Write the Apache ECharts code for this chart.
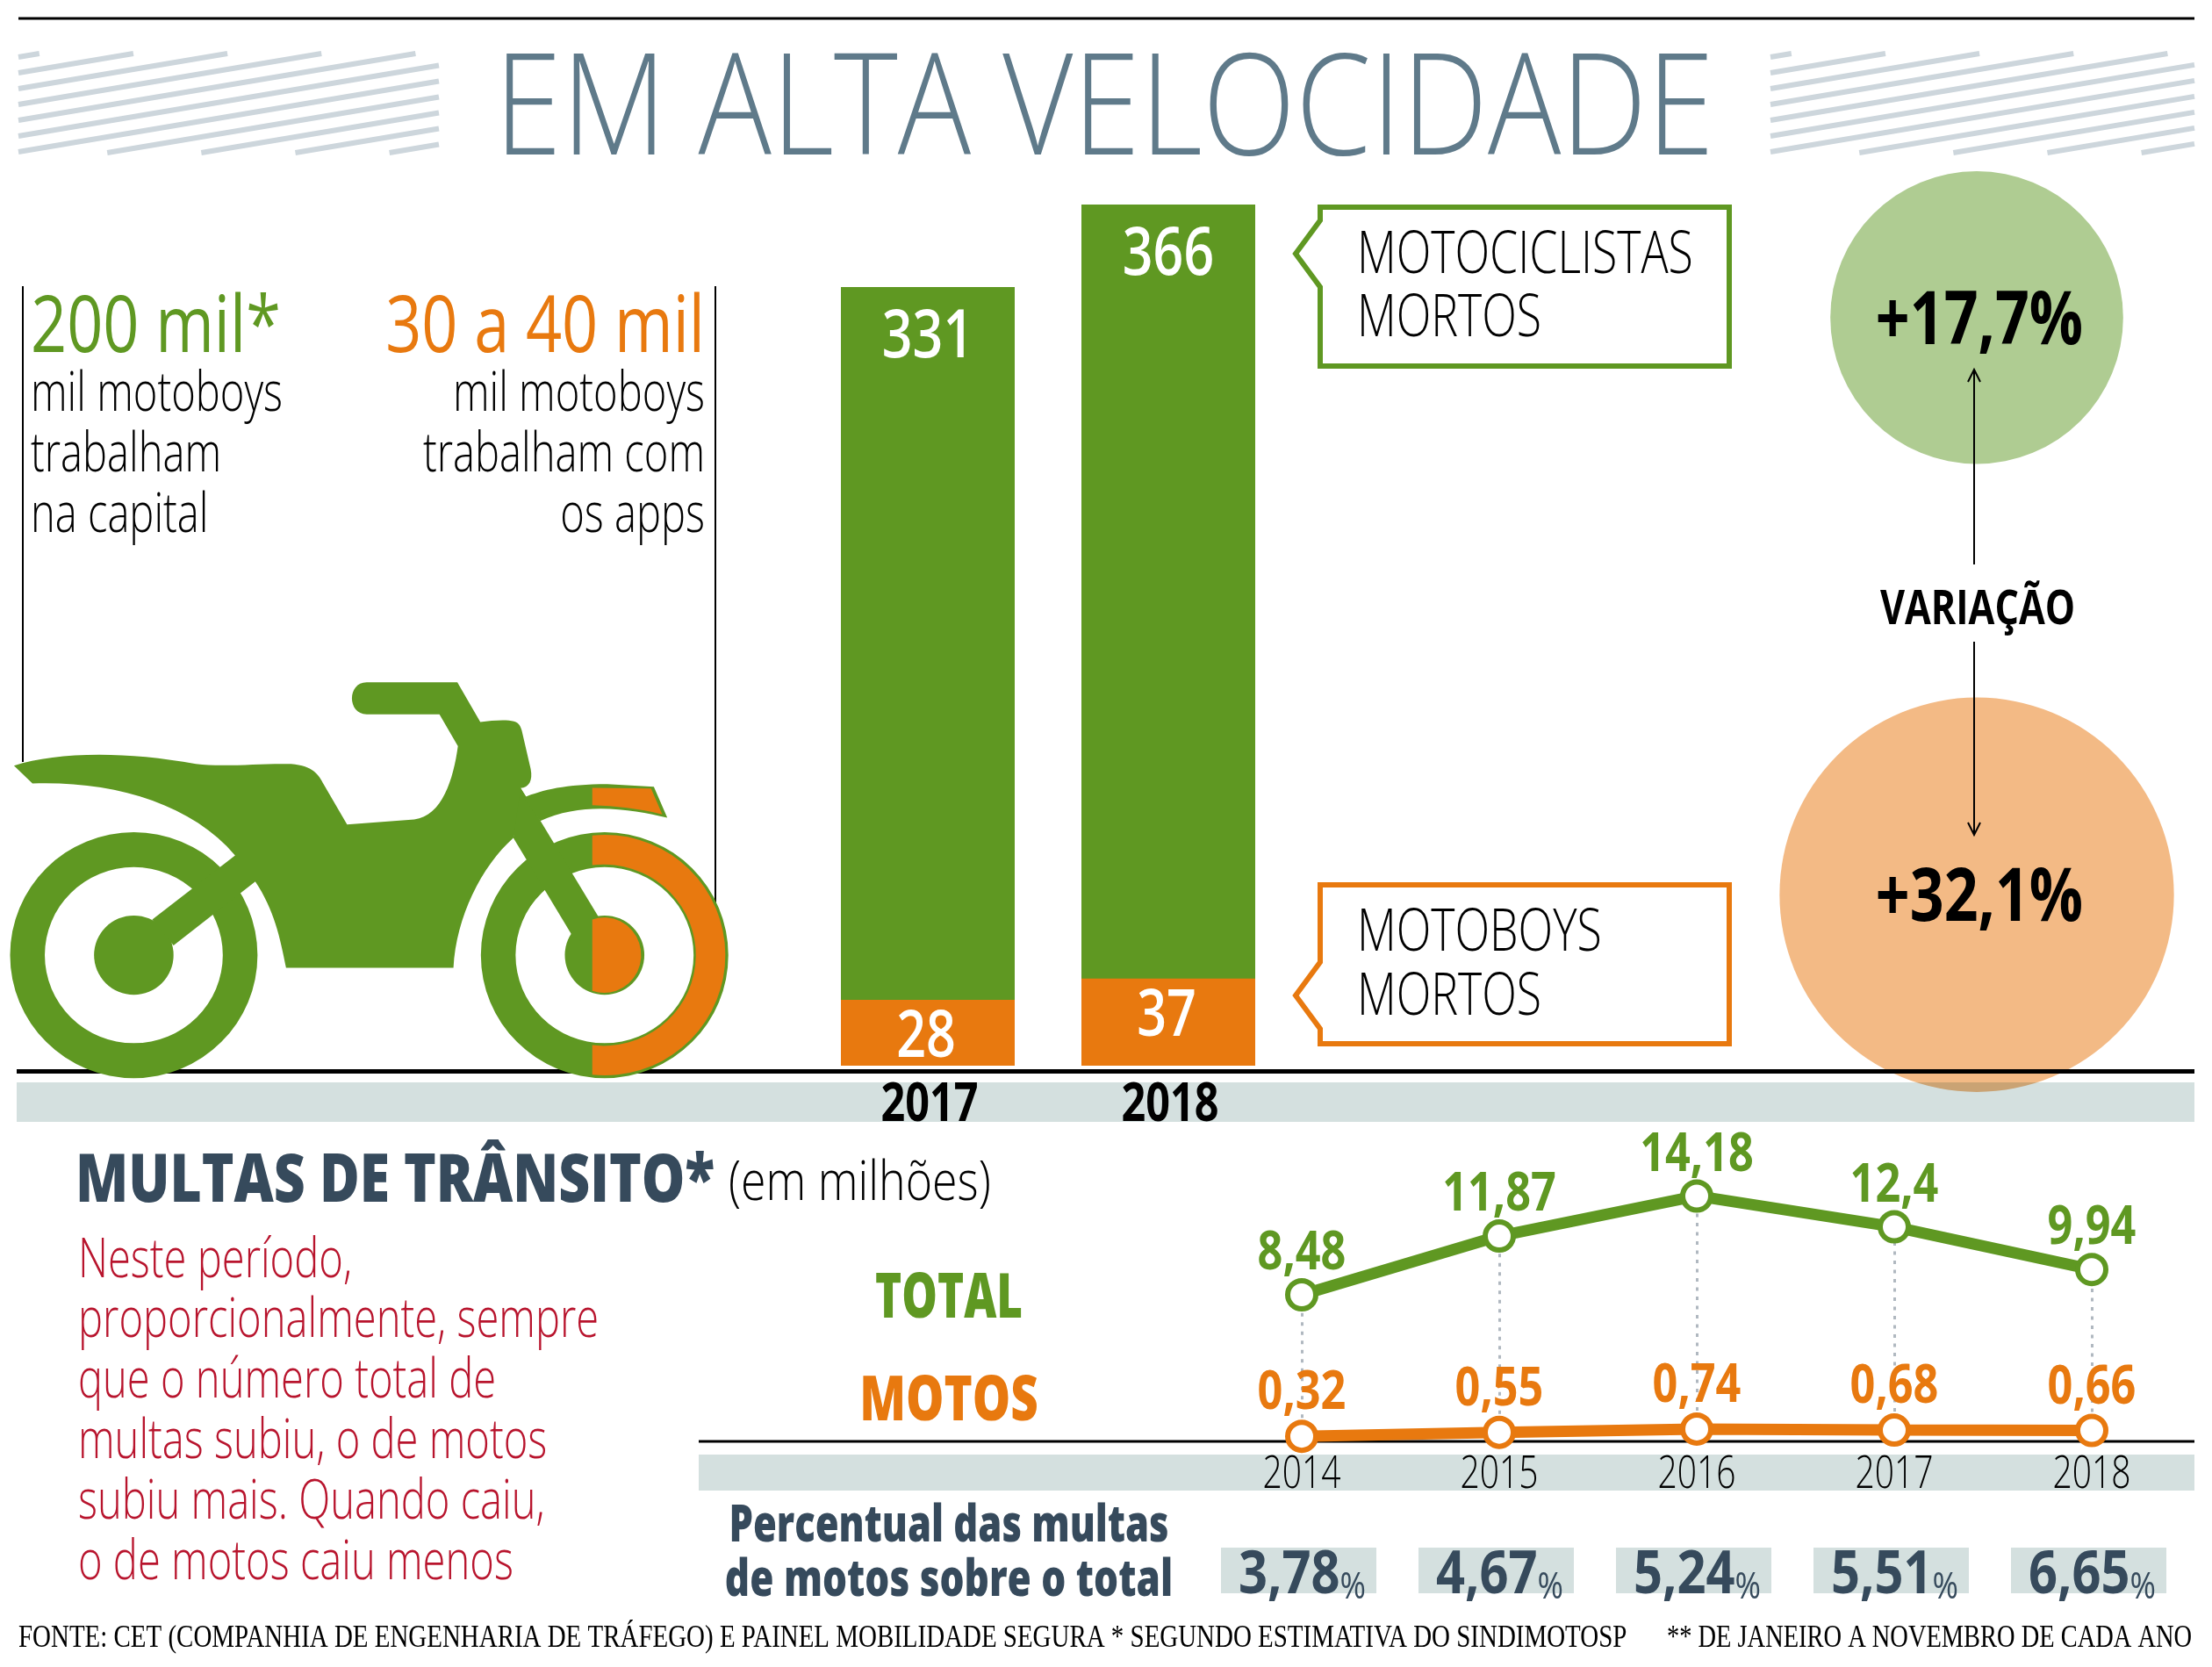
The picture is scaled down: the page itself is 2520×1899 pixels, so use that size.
<!DOCTYPE html>
<html>
<head>
<meta charset="utf-8">
<style>html,body{margin:0;background:#fff}#main{width:2520px;height:1899px}</style>
<script src="https://cdn.jsdelivr.net/npm/echarts@6/dist/echarts.min.js"></script>
</head>
<body>
<div id="main"></div>
<script>
var barYears = ['2017', '2018'];
var motociclistas = [331, 366];
var motoboys = [28, 37];
var variacao = [17.7, 32.1];
var variacaoNomes = ['Motociclistas', 'Motoboys'];
var anos = ['2014', '2015', '2016', '2017', '2018'];
var multasTotal = [8.48, 11.87, 14.18, 12.4, 9.94];
var multasMotos = [0.32, 0.55, 0.74, 0.68, 0.66];
var percentual = [3.78, 4.67, 5.24, 5.51, 6.65];

var GREEN = '#5f9822', ORANGE = '#e8790f', SLATE = '#364a5c', BAND = '#d4e0df';
var OPEN = '"Open Sans"';

function virgula(v) { return String(v).replace('.', ','); }
function texto(x, y, str, size, color, weight, sx, align, family) {
    return {
        type: 'text', x: x, y: y, scaleX: sx || 1, z: 20,
        style: {
            text: str, fontSize: size, fill: color, fontWeight: weight || 'normal',
            fontFamily: family || OPEN, align: align || 'left', verticalAlign: 'middle'
        }
    };
}
function linha(x1, y1, x2, y2, w, color, z) {
    return { type: 'line', z: z || 1, shape: { x1: x1, y1: y1, x2: x2, y2: y2 }, style: { stroke: color || '#000', lineWidth: w } };
}
function seta(x, y, dir) {
    return { type: 'polyline', z: 6, shape: { points: [[x - 7, y + dir * 14], [x, y], [x + 7, y + dir * 14]] }, style: { stroke: '#000', lineWidth: 2, fill: 'none' } };
}
// listras diagonais ao lado do titulo
function listras(x0, x1, y0, y1) {
    var out = [], slope = 0.168, passo = 18;
    for (var c = y0 + 4; c < y1 + (x1 - x0) * slope; c += passo) {
        var xa = x0, ya = c, xb = x1, yb = c - (x1 - x0) * slope;
        if (ya > y1) { xa = x0 + (ya - y1) / slope; ya = y1; }
        if (yb < y0) { xb = x0 + (c - y0) / slope; yb = y0; }
        out.push(linha(xa, ya, xb, yb, 6, '#cdd6dc', 1));
    }
    return out;
}
function caixa(top, bottom, tipY, color) {
    return {
        type: 'polygon', z: 5,
        shape: { points: [[1504, top], [1970, top], [1970, bottom], [1504, bottom], [1504, tipY + 38], [1476, tipY], [1504, tipY - 38]] },
        style: { fill: '#fff', stroke: color, lineWidth: 6 }
    };
}

// moto desenhada em coordenadas proprias, escala aplicada no grupo
var motoVerde = [
    'M18,1014 A221,366 0 1 1 460,1014 A221,366 0 1 1 18,1014 Z M80,1014 A159,262 0 1 0 398,1014 A159,262 0 1 0 80,1014 Z',
    'M859,1014 A221,366 0 1 1 1301,1014 A221,366 0 1 1 859,1014 Z M921,1014 A159,262 0 1 0 1239,1014 A159,262 0 1 0 921,1014 Z',
    'M168,1014 A71,118 0 1 1 310,1014 A71,118 0 1 1 168,1014 Z',
    'M1009,1014 A71,118 0 1 1 1151,1014 A71,118 0 1 1 1009,1014 Z',
    'M25,450 C100,410 220,405 350,445 C400,455 470,442 520,445 C560,450 570,480 578,505 L620,625 L740,610 C790,600 810,490 818,392 L785,297 L655,297 C620,297 620,202 655,202 L817,202 L858,320 C880,315 905,312 918,318 C928,322 930,335 932,345 L948,460 C952,495 945,515 930,517 L940,543 L917,665 C860,750 815,900 810,1052 L511,1052 C500,960 490,880 456,795 L310,985 L272,908 L420,717 C340,560 200,495 58,503 Z',
    'M930,517 L1068,897 L1058,1000 L1020,950 L917,665 Z',
    'M935,545 C970,522 1010,505 1085,505 L1168,513 L1192,605 C1130,580 1040,555 965,615 Z'
];
var motoLaranja = [
    'M1058,658 A215,358 0 1 1 1058,1370 L1058,1282 A165,270 0 1 0 1058,746 Z',
    'M1058,908 A66,112 0 1 1 1058,1120 Z',
    'M1058,516 L1163,518 L1183,595 C1140,578 1100,570 1058,568 Z'
];
function pedacos(lista, cor) {
    return lista.map(function (d) {
        return { type: 'path', shape: { pathData: d }, style: { fill: cor } };
    });
}
function renderMoto() {
    return {
        type: 'group', x: 0, y: 700, scaleX: 1 / 1.568, scaleY: 1 / 2.613,
        children: pedacos(motoVerde, GREEN).concat(pedacos(motoLaranja, ORANGE))
    };
}

// rotulos condensados: a fonte instalada e larga, entao cada rotulo e comprimido com scaleX
function rotulos(xIdx, yIdx, dados, textos, cfg) {
    return {
        type: 'custom', xAxisIndex: xIdx, yAxisIndex: yIdx, z: 30, silent: true, data: dados,
        renderItem: function (params, api) {
            var p = api.coord([api.value(0), api.value(1)]);
            return {
                type: 'text', x: p[0] + (cfg.dx || 0), y: p[1] + (cfg.dy || 0), scaleX: cfg.sx,
                style: {
                    text: textos[params.dataIndex], fontFamily: OPEN, fontSize: cfg.size, fontWeight: cfg.weight || 600,
                    fill: cfg.color, align: 'center', verticalAlign: 'middle', rich: cfg.rich
                }
            };
        }
    };
}
function pares(valores) {
    return valores.map(function (v, i) { return [i, v]; });
}

var graficos = [].concat(
    [linha(21, 21, 2500, 21, 3)],
    listras(21, 500, 61, 174),
    listras(2017, 2500, 61, 174),
    [
        texto(1258, 130, 'EM ALTA VELOCIDADE', 160, '#5f7a8a', 300, 0.867, 'center'),
        linha(26, 326, 26, 868, 2),
        linha(815, 326, 815, 1029, 2),
        { type: 'rect', z: 4, shape: { x: 19, y: 1233, width: 2481, height: 45 }, style: { fill: BAND, blend: 'multiply' } },
        linha(19, 1220.5, 2500, 1220.5, 5, '#000', 4),
        texto(35, 375, '200 mil*', 90, GREEN, 'normal', 0.8),
        texto(803, 375, '30 a 40 mil', 90, ORANGE, 'normal', 0.8, 'right'),
        texto(35, 450, 'mil motoboys', 62, '#000', 300, 0.76),
        texto(35, 519, 'trabalham', 62, '#000', 300, 0.76),
        texto(35, 588, 'na capital', 62, '#000', 300, 0.76),
        texto(803, 450, 'mil motoboys', 62, '#000', 300, 0.76, 'right'),
        texto(803, 519, 'trabalham com', 62, '#000', 300, 0.76, 'right'),
        texto(803, 588, 'os apps', 62, '#000', 300, 0.76, 'right'),
        caixa(236, 417, 289, GREEN),
        caixa(1008, 1189, 1134, ORANGE),
        texto(1546, 292, 'MOTOCICLISTAS', 66, '#000', 300, 0.785),
        texto(1546, 364, 'MORTOS', 66, '#000', 300, 0.785),
        texto(1546, 1064, 'MOTOBOYS', 66, '#000', 300, 0.785),
        texto(1546, 1137, 'MORTOS', 66, '#000', 300, 0.785),
        linha(2249, 422, 2249, 643, 2, '#000', 6),
        linha(2249, 731, 2249, 950, 2, '#000', 6),
        seta(2249, 421, 1),
        seta(2249, 951, -1),
        texto(2253, 696, 'VARIAÇÃO', 54, '#000', 'bold', 0.8, 'center'),
        texto(86, 1347, 'MULTAS DE TRÂNSITO*', 76, SLATE, 800, 0.82),
        texto(830, 1349, '(em milhões)', 62, '#000', 300, 0.836),
        texto(1081, 1481, 'TOTAL', 70, GREEN, 800, 0.73, 'center'),
        texto(1081, 1598, 'MOTOS', 70, ORANGE, 800, 0.78, 'center'),
        { type: 'rect', z: 0, shape: { x: 796, y: 1657, width: 1704, height: 41 }, style: { fill: BAND } },
        linha(796, 1642, 2500, 1642, 3),
        texto(1081, 1739, 'Percentual das multas', 58, SLATE, 800, 0.75, 'center'),
        texto(1081, 1801, 'de motos sobre o total', 58, SLATE, 800, 0.76, 'center'),
        texto(21, 1867, 'FONTE: CET (COMPANHIA DE ENGENHARIA DE TRÁFEGO) E PAINEL MOBILIDADE SEGURA * SEGUNDO ESTIMATIVA DO SINDIMOTOSP', 36, '#000', 'normal', 0.804, 'left', '"Liberation Serif"'),
        texto(2497, 1867, '** DE JANEIRO A NOVEMBRO DE CADA ANO', 36, '#000', 'normal', 0.79, 'right', '"Liberation Serif"')
    ],
    ['Neste período,', 'proporcionalmente, sempre', 'que o número total de', 'multas subiu, o de motos', 'subiu mais. Quando caiu,', 'o de motos caiu menos'].map(function (s, i) {
        return texto(89, 1437 + i * 68.8, s, 62, '#b8142d', 300, 0.76);
    })
);

var option = {
    animation: false,
    backgroundColor: '#fff',
    graphic: graficos,
    grid: [
        { left: 920, top: 142, width: 548, height: 1072 },
        { left: 1370.5, top: 1326.5, width: 1125, height: 316 },
        { left: 1367, top: 1763, width: 1125, height: 52 },
        { left: 2089, top: 33, width: 326, height: 1315 }
    ],
    xAxis: [
        { gridIndex: 0, type: 'category', data: barYears, axisLine: { show: false }, axisTick: { show: false }, axisLabel: { show: false } },
        { gridIndex: 1, type: 'category', data: anos, axisLine: { show: false }, axisTick: { show: false }, axisLabel: { show: false } },
        { gridIndex: 2, type: 'category', data: anos, show: false },
        { gridIndex: 3, type: 'category', data: ['variação'], show: false }
    ],
    yAxis: [
        { gridIndex: 0, type: 'value', min: 0, max: 400, show: false },
        { gridIndex: 1, type: 'value', min: 0, max: 16, show: false },
        { gridIndex: 2, type: 'category', data: ['%'], show: false },
        { gridIndex: 3, type: 'category', inverse: true, data: variacaoNomes, show: false }
    ],
    series: [
        { type: 'custom', name: 'moto', coordinateSystem: 'none', data: [0], renderItem: renderMoto, silent: true, z: 10 },
        { type: 'bar', name: 'Motociclistas', xAxisIndex: 0, yAxisIndex: 0, data: motociclistas, barWidth: 198, barGap: '-100%', itemStyle: { color: GREEN } },
        { type: 'bar', name: 'Motoboys', xAxisIndex: 0, yAxisIndex: 0, data: motoboys, barWidth: 198, barGap: '-100%', itemStyle: { color: ORANGE } },
        { type: 'line', name: 'Total', xAxisIndex: 1, yAxisIndex: 1, data: multasTotal, symbol: 'circle', symbolSize: 32,
          lineStyle: { color: GREEN, width: 13 }, itemStyle: { color: '#fff', borderColor: GREEN, borderWidth: 6 }, z: 5,
          markLine: { silent: true, symbol: 'none', label: { show: false },
                      lineStyle: { color: '#b0b8c0', type: [4, 6.5], width: 3 },
                      data: anos.map(function (a, i) { return [{ xAxis: i, yAxis: multasMotos[i] }, { xAxis: i, yAxis: multasTotal[i] }]; }) } },
        { type: 'line', name: 'Motos', xAxisIndex: 1, yAxisIndex: 1, data: multasMotos, symbol: 'circle', symbolSize: 32,
          lineStyle: { color: ORANGE, width: 13 }, itemStyle: { color: '#fff', borderColor: ORANGE, borderWidth: 6 }, z: 6 },
        { type: 'scatter', name: 'Percentual', xAxisIndex: 2, yAxisIndex: 2, symbol: 'rect', symbolSize: [177, 52], itemStyle: { color: BAND, opacity: 1 },
          data: percentual.map(function (v, i) { return [i, 0]; }) },
        { type: 'scatter', name: 'Variação', xAxisIndex: 3, yAxisIndex: 3, z: 3, itemStyle: { opacity: 1 },
          data: variacao.map(function (v, i) {
              return { value: [0, i, v], itemStyle: { color: i == 0 ? '#afcc92' : '#f3ba85' } };
          }),
          symbolSize: function (d) { return Math.sqrt(d[2]) * 79.3; } },
        rotulos(0, 0, pares(motociclistas), motociclistas, { dy: 58, sx: 0.8, size: 76, color: '#fff' }),
        rotulos(0, 0, pares(motoboys), motoboys, { dy: 44, dx: -2, sx: 0.8, size: 74, color: '#fff' }),
        rotulos(0, 0, barYears.map(function (a, i) { return [i, 0]; }), barYears, { dy: 46, dx: 2, sx: 0.81, size: 60, weight: 700, color: '#000' }),
        rotulos(1, 1, pares(multasTotal), multasTotal.map(virgula), { dy: -46, sx: 0.84, size: 60, weight: 700, color: GREEN }),
        rotulos(1, 1, pares(multasMotos), multasMotos.map(virgula), { dy: -48, sx: 0.84, size: 60, weight: 700, color: ORANGE }),
        rotulos(1, 1, anos.map(function (a, i) { return [i, 0]; }), anos, { dy: 38, sx: 0.75, size: 52, weight: 300, color: '#000' }),
        rotulos(2, 2, percentual.map(function (v, i) { return [i, 0]; }),
            percentual.map(function (v) { return '{n|' + virgula(v) + '}{p|%}'; }),
            { sx: 0.85, dx: 4, dy: 7, size: 68, color: SLATE, rich: {
                n: { fontFamily: OPEN, fontWeight: 700, fontSize: 68, fill: SLATE, color: SLATE },
                p: { fontFamily: OPEN, fontWeight: 400, fontSize: 42, fill: SLATE, color: SLATE, verticalAlign: 'bottom' } } }),
        rotulos(3, 3, variacao.map(function (v, i) { return [0, i]; }),
            variacao.map(function (v) { return '+' + virgula(v) + '%'; }),
            { sx: 0.81, size: 84, weight: 700, color: '#000', dx: 3, dy: 6 })
    ]
};

var chart = echarts.init(document.getElementById('main'));
chart.setOption(option);
</script>
</body>
</html>
